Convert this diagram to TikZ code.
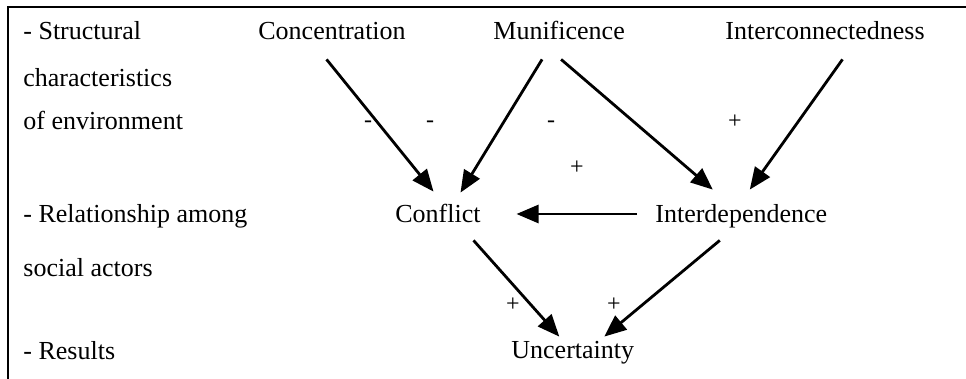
\documentclass[tikz,border=0pt]{standalone}
\usepackage{fontspec}
\setmainfont{Liberation Serif}
\usetikzlibrary{arrows.meta}
\begin{document}
\begin{tikzpicture}[x=0.5pt,y=-0.5pt,line cap=butt,
  lbl/.style={anchor=base west,inner sep=0pt,text height=9pt,text depth=2.5pt,font=\fontsize{13}{15}\selectfont},
  sgn/.style={inner sep=0pt,font=\fontsize{12}{14}\selectfont},
  arr/.style={line width=1.4pt,-{Triangle[length=11pt,width=9pt]}}]
\useasboundingbox (0,0) rectangle (966,379);
% frame (cut off at right and bottom)
\draw[line width=1pt] (8,379)--(8,7)--(966,7);
% level labels
\node[lbl] (lev1a) at (23,40) {- Structural};
\node[lbl] (lev1b) at (23,87) {characteristics};
\node[lbl] (lev1c) at (23,130) {of environment};
\node[lbl] (lev2a) at (23,223) {- Relationship among};
\node[lbl] (lev2b) at (23,277) {social actors};
\node[lbl] (lev3) at (23,360) {- Results};
% variables
\node[lbl] (conc) at (258,40) {Concentration};
\node[lbl] (munif) at (493,40) {Munificence};
\node[lbl] (inter) at (725,40) {Interconnectedness};
\node[lbl] (confl) at (395,223) {Conflict};
\node[lbl] (interd) at (655,223) {Interdependence};
\node[lbl] (uncert) at (511,359) {Uncertainty};
% effects
\draw[arr] ([shift={(-5.5,14)}]conc.south) -- ([shift={(-4.5,-13)}]confl.north);
\draw[arr] ([shift={(-17,14)}]munif.south) -- ([shift={(22.5,-12)}]confl.north);
\draw[arr] ([shift={(2,14)}]munif.south) -- ([shift={(-28.5,-15)}]interd.north);
\draw[arr] ([shift={(17.5,14)}]inter.south) -- ([shift={(8.5,-15)}]interd.north);
\draw[arr] ([shift={(-18,-2.5)}]interd.west) -- ([shift={(35.5,-2.5)}]confl.east);
\draw[arr] ([shift={(35.5,12)}]confl.south) -- ([shift={(-13.5,-4)}]uncert.north);
\draw[arr] ([shift={(-21.5,12)}]interd.south) -- ([shift={(31.5,-4)}]uncert.north);
% signs
\node[sgn] (s1) at (368,124) {-};
\node[sgn] (s2) at (430,124) {-};
\node[sgn] (s3) at (551,124) {-};
\node[sgn] (s4) at (577,168) {+};
\node[sgn] (s5) at (735,122) {+};
\node[sgn] (s6) at (513,305) {+};
\node[sgn] (s7) at (614,305) {+};
\end{tikzpicture}
\end{document}
